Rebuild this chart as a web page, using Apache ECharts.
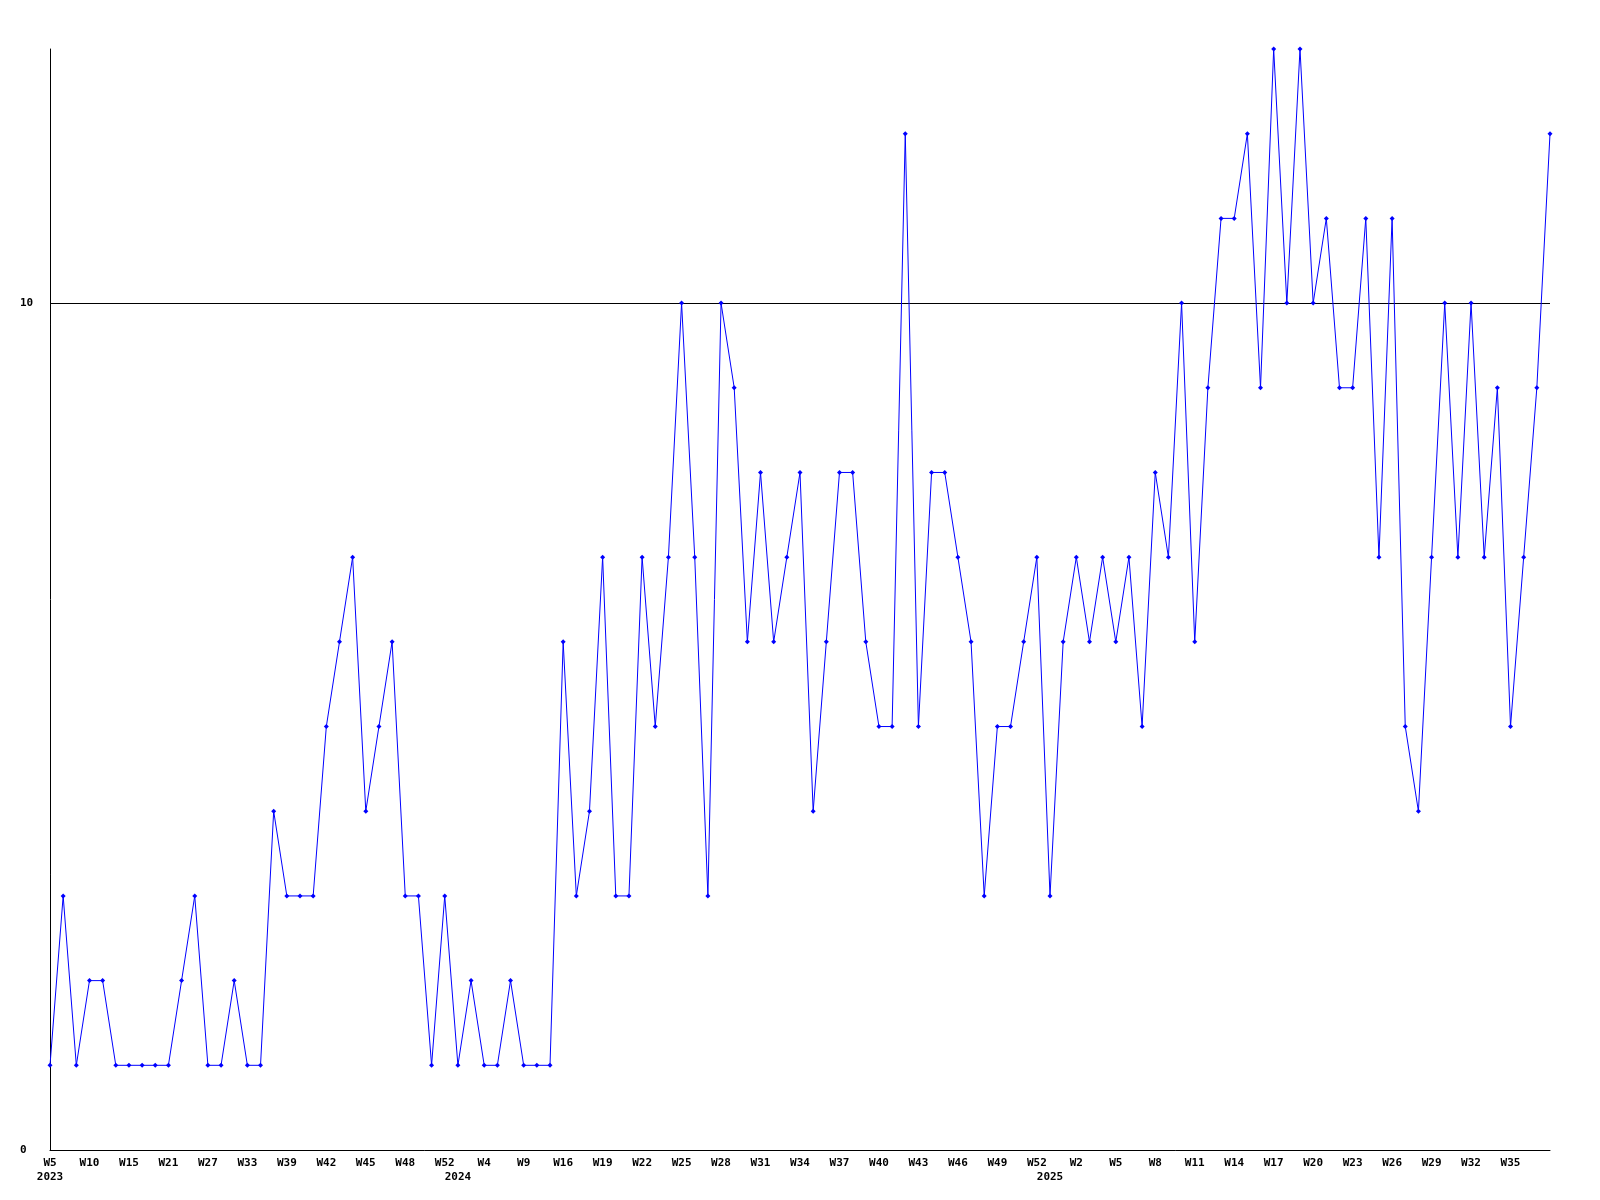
<!DOCTYPE html>
<html>
<head>
<meta charset="utf-8">
<script src="https://cdn.jsdelivr.net/npm/echarts@6/dist/echarts.min.js"></script>
<style>
html,body{margin:0;padding:0;background:#fff;}
#chart{width:1600px;height:1200px;}
</style>
</head>
<body>
<div id="chart"></div>
<script>
// Week labels of each data point (only every 3rd is shown on the axis)
const weekLabels = [
  'W5','W7','W8','W10','W12','W13','W15','W17','W19','W21',
  'W23','W25','W27','W29','W31','W33','W35','W37','W39','W40',
  'W41','W42','W43','W44','W45','W46','W47','W48','W49','W51',
  'W52','W0','W1','W4','W6','W8','W9','W11','W14','W16',
  'W17','W18','W19','W20','W21','W22','W23','W24','W25','W26',
  'W27','W28','W29','W30','W31','W32','W33','W34','W35','W36',
  'W37','W38','W39','W40','W41','W42','W43','W44','W45','W46',
  'W47','W48','W49','W50','W51','W52','W0','W1','W2','W3',
  'W4','W5','W6','W7','W8','W9','W10','W11','W12','W13',
  'W14','W15','W16','W17','W18','W19','W20','W21','W22','W23',
  'W24','W25','W26','W27','W28','W29','W30','W31','W32','W33',
  'W34','W35','W36','W37','W38'
];
// Year labels, placed at the first point of each year
const yearLabelIndex = [0, 31, 76];
const yearLabelText = ['2023', '2024', '2025'];
// Series values
const values = [
  1,3,1,2,2,1,1,1,1,1,
  2,3,1,1,2,1,1,4,3,3,
  3,5,6,7,4,5,6,3,3,1,
  3,1,2,1,1,2,1,1,1,6,
  3,4,7,3,3,7,5,7,10,7,
  3,10,9,6,8,6,7,8,4,6,
  8,8,6,5,5,12,5,8,8,7,
  6,3,5,5,6,7,3,6,7,6,
  7,6,7,5,8,7,10,6,9,11,
  11,12,9,13,10,13,10,11,9,9,
  11,7,11,5,4,7,10,7,10,7,
  9,5,7,9,12
];
// Y axis ticks
const yMin = 0, yMax = 13, yInterval = 10;

const cats = weekLabels.map((w, i) => String(i));
const font = '"DejaVu Sans Mono", "Liberation Mono", monospace';

const chart = echarts.init(document.getElementById('chart'), null, {renderer: 'canvas'});
chart.setOption({
  animation: false,
  backgroundColor: '#ffffff',
  grid: {left: 50, right: 50, top: 49, bottom: 50, containLabel: false},
  xAxis: [
    {
      type: 'category',
      data: cats,
      boundaryGap: false,
      axisLine: {show: true, lineStyle: {color: '#000', width: 1}},
      axisTick: {show: false},
      splitLine: {show: false},
      axisLabel: {
        interval: 2,
        showMaxLabel: false,
        margin: 8,
        color: '#000',
        fontFamily: font,
        fontWeight: 'bold',
        fontSize: 11,
        formatter: (v, i) => (i >= weekLabels.length - 1 ? '' : weekLabels[i])
      }
    },
    {
      type: 'category',
      data: cats,
      position: 'bottom',
      boundaryGap: false,
      axisLine: {show: false},
      axisTick: {show: false},
      splitLine: {show: false},
      axisLabel: {
        interval: 0,
        margin: 22,
        color: '#000',
        fontFamily: font,
        fontWeight: 'bold',
        fontSize: 11,
        formatter: (v, i) => {
          const k = yearLabelIndex.indexOf(i);
          return k >= 0 ? yearLabelText[k] : '';
        }
      }
    }
  ],
  yAxis: {
    type: 'value',
    min: yMin,
    max: yMax,
    interval: yInterval,
    axisLine: {show: true, lineStyle: {color: '#000', width: 1}},
    axisTick: {show: false},
    splitLine: {show: true, showMinLine: false, showMaxLine: false, lineStyle: {color: '#000', width: 1}},
    axisLabel: {
      showMaxLabel: false,
      align: 'left',
      margin: 30,
      color: '#000',
      fontFamily: font,
      fontWeight: 'bold',
      fontSize: 11
    }
  },
  series: [{
    type: 'line',
    xAxisIndex: 0,
    data: values,
    symbol: 'diamond',
    symbolSize: 5,
    showAllSymbol: true,
    lineStyle: {color: '#0000ff', width: 1},
    itemStyle: {color: '#0000ff', borderWidth: 0}
  }]
});
</script>
</body>
</html>
